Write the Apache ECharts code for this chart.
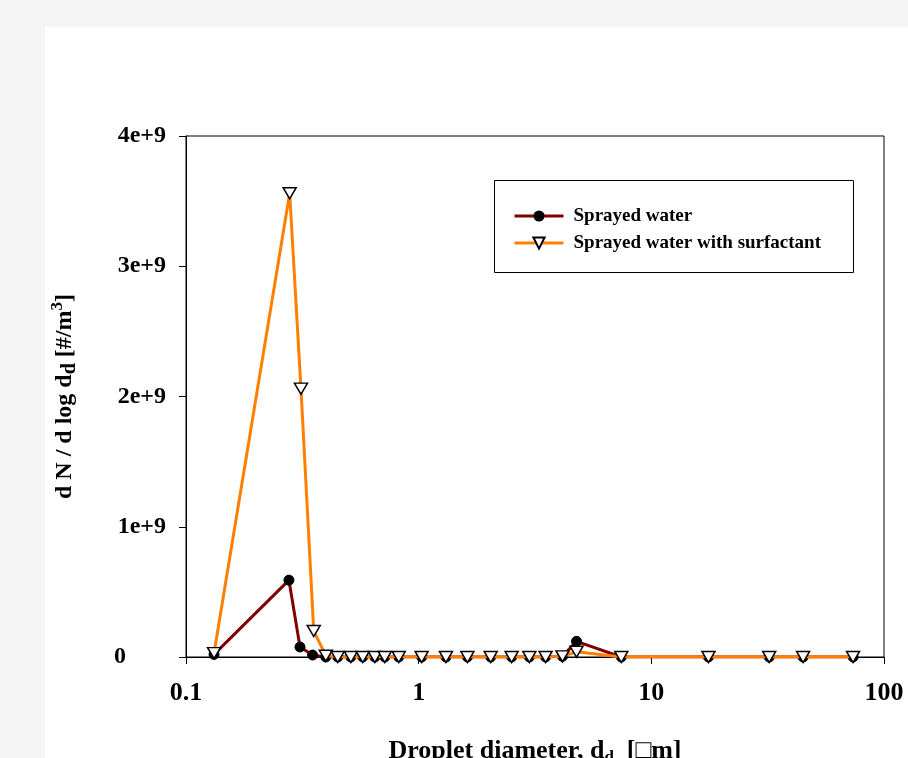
<!DOCTYPE html>
<html>
<head>
<meta charset="utf-8">
<style>
  html, body { margin: 0; padding: 0; background: #f5f5f5; }
  #main { width: 908px; height: 758px; }
</style>
<script src="https://cdn.jsdelivr.net/npm/echarts@6/dist/echarts.min.js"></script>
</head>
<body>
<div id="main"></div>
<script>
// droplet diameters [um]
const dWater = [0.132, 0.277, 0.309, 0.350, 0.399, 0.449, 0.511, 0.575, 0.648, 0.715, 0.821,
  1.03, 1.31, 1.62, 2.04, 2.51, 2.99, 3.51, 4.15, 4.77, 7.43, 17.6, 32.1, 44.9, 73.6]
const nWater = [0.02e9, 0.59e9, 0.077e9, 0.015e9, 0, 0, 0, 0, 0, 0, 0,
  0, 0, 0, 0, 0, 0, 0, 0.005e9, 0.12e9, 0, 0, 0, 0, 0]

const dSurf = [0.132, 0.279, 0.312, 0.354, 0.399, 0.449, 0.511, 0.575, 0.648, 0.715, 0.821,
  1.03, 1.31, 1.62, 2.04, 2.51, 2.99, 3.51, 4.15, 4.77, 7.43, 17.6, 32.1, 44.9, 73.6]
const nSurf = [0.03e9, 3.56e9, 2.06e9, 0.2e9, 0.01e9, 0, 0, 0, 0, 0, 0,
  0, 0, 0, 0, 0, 0, 0, 0.005e9, 0.04e9, 0, 0, 0, 0, 0]

const yTicks = ['0', '1e+9', '2e+9', '3e+9', '4e+9']

const font = 'Liberation Serif, Times New Roman, serif'

let myChart = echarts.init(document.getElementById('main'))

myChart.setOption({
  animation: false,
  graphic: [
    { type: 'rect', z: -10, shape: { x: 45, y: 27, width: 900, height: 800 }, style: { fill: '#fff' } },
    { type: 'rect', z: 10, shape: { x: 494.5, y: 180.5, width: 359, height: 92 },
      style: { fill: 'none', stroke: '#000', lineWidth: 1 } }
  ],
  grid: {
    left: 186, right: 24, top: 136, bottom: 101,
    outerBoundsMode: 'none', containLabel: false,
    show: true, borderColor: '#000', borderWidth: 1, backgroundColor: 'transparent'
  },
  legend: {
    left: 513, top: 206, orient: 'vertical', itemGap: 7, padding: 0,
    itemWidth: 49, itemHeight: 14,
    lineStyle: { width: 3 },
    textStyle: { fontFamily: font, fontWeight: 'bold', fontSize: 19, lineHeight: 20,
      color: '#000', padding: [0, 0, 0, 5] },
    data: ['Sprayed water', 'Sprayed water with surfactant']
  },
  xAxis: {
    type: 'log', logBase: 10, min: 0.1, max: 100,
    axisLine: { lineStyle: { color: '#000', width: 1 } },
    axisTick: { length: 7, lineStyle: { color: '#000' } },
    minorTick: { show: false },
    splitLine: { show: false },
    axisLabel: {
      margin: 23, color: '#000', fontFamily: font, fontWeight: 'bold', fontSize: 26,
      formatter: v => String(+v.toPrecision(3))
    },
    name: 'Droplet diameter, d{sub|d}  [□m]',
    nameLocation: 'middle', nameGap: 80,
    nameTextStyle: {
      color: '#000', fontFamily: font, fontWeight: 'bold', fontSize: 26,
      rich: { sub: { fontFamily: font, fontWeight: 'bold', fontSize: 17, padding: [12, 0, 0, 0] } }
    }
  },
  yAxis: {
    type: 'value', min: 0, max: 4e9, interval: 1e9,
    axisLine: { show: true, lineStyle: { color: '#000', width: 1 } },
    axisTick: { show: true, length: 7, lineStyle: { color: '#000' } },
    splitLine: { show: false },
    axisLabel: {
      margin: 20, color: '#000', fontFamily: font, fontWeight: 'bold', fontSize: 24,
      formatter: v => v === 0 ? '{z|0}' : yTicks[Math.round(v / 1e9)],
      rich: { z: { fontFamily: font, fontWeight: 'bold', fontSize: 24, color: '#000', padding: [0, 40, 0, 0] } }
    },
    name: 'd N / d log d{sub|d} [#/m{sup|3}]',
    nameLocation: 'middle', nameGap: 106, nameRotate: 90,
    nameTextStyle: {
      color: '#000', fontFamily: font, fontWeight: 'bold', fontSize: 24,
      rich: {
        sub: { fontFamily: font, fontWeight: 'bold', fontSize: 20, padding: [11, 0, 0, 0] },
        sup: { fontFamily: font, fontWeight: 'bold', fontSize: 17, padding: [0, 0, 13, 0] }
      }
    }
  },
  series: [{
    name: 'Sprayed water',
    type: 'line',
    data: dWater.map((d, i) => [d, nWater[i]]),
    symbol: 'circle', symbolSize: 10,
    itemStyle: { color: '#000', borderColor: '#000' },
    lineStyle: { color: '#800000', width: 3 },
    z: 2
  }, {
    name: 'Sprayed water with surfactant',
    type: 'line',
    data: dSurf.map((d, i) => [d, nSurf[i]]),
    symbol: 'triangle', symbolSize: [13, 11], symbolRotate: 180,
    itemStyle: { color: '#fff', borderColor: '#000', borderWidth: 1.5 },
    lineStyle: { color: '#ff8000', width: 3 },
    z: 3
  }]
})
</script>
</body>
</html>
